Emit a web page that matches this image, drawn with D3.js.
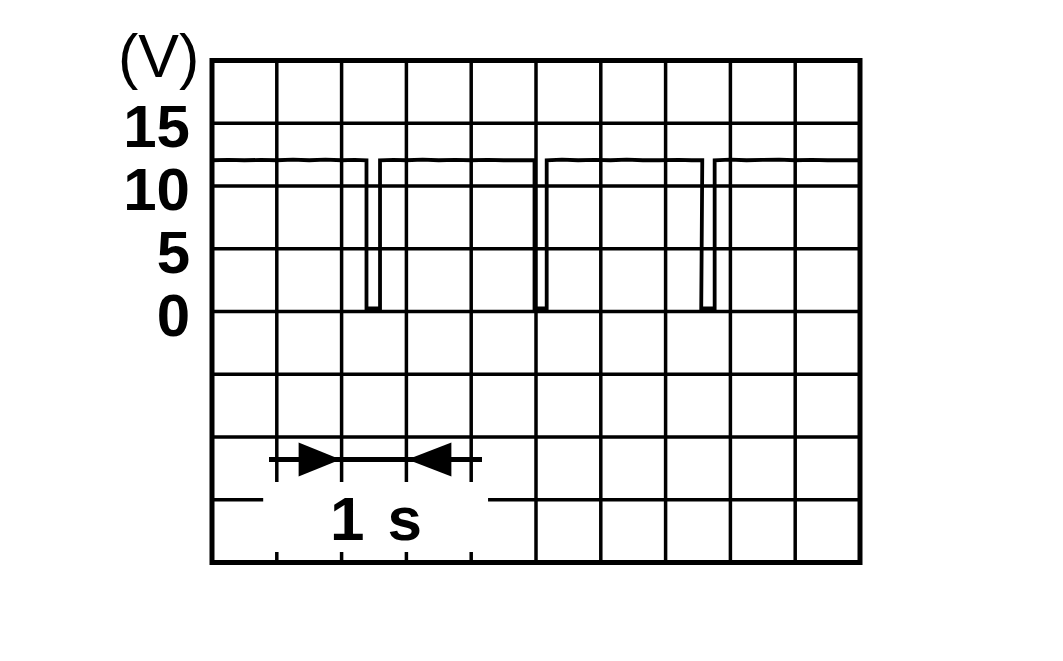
<!DOCTYPE html>
<html>
<head>
<meta charset="utf-8">
<script src="https://cdn.jsdelivr.net/npm/d3@7/dist/d3.min.js"></script>
<style>
  html, body { margin: 0; padding: 0; background: #fff; }
  svg { display: block; }
  text { font-family: "Liberation Sans", Arial, sans-serif; fill: #000; }
</style>
</head>
<body>
<svg id="chart" width="1063" height="661"></svg>
<script>
// ---- data ----
const yTickValues = [15, 10, 5, 0];
const yTickLabels = ["15", "10", "5", "0"];
const yUnitLabel = "(V)";
const xGridValues = [0, 1, 2, 3, 4, 5, 6, 7, 8, 9, 10];     // seconds, 1 s / div
const yGridValues = [20, 15, 10, 5, 0, -5, -10, -15, -20];  // volts, 5 V / div
const signalTime = [
  0, 0.25, 0.5, 0.75, 1.0, 1.25, 1.5, 1.75, 2.0, 2.2, 2.384, 2.384, 2.593, 2.593,
  2.8, 3.0, 3.25, 3.5, 3.75, 4.0, 4.25, 4.5, 4.75, 4.977, 4.977, 5.165, 5.165,
  5.4, 5.65, 5.9, 6.15, 6.4, 6.65, 6.9, 7.2, 7.4, 7.566, 7.55, 7.757, 7.757,
  8.0, 8.25, 8.5, 8.75, 9.0, 9.25, 9.5, 9.75, 10.0
];
const signalVolt = [
  12.05, 12.08, 12.05, 12.08, 12.05, 12.1, 12.05, 12.1, 12.05, 12.08, 12.05, 0.25, 0.25, 12.05,
  12.08, 12.05, 12.1, 12.05, 12.08, 12.05, 12.08, 12.05, 12.05, 12.05, 0.25, 0.25, 12.05,
  12.1, 12.05, 12.08, 12.05, 12.1, 12.05, 12.05, 12.08, 12.05, 12.05, 0.25, 0.25, 12.05,
  12.1, 12.05, 12.08, 12.1, 12.05, 12.08, 12.05, 12.05, 12.05
];
const timeScaleLabel = "1 s";
const timeScaleFrom = 2;   // arrow tips (s)
const timeScaleTo = 3;

// ---- layout ----
const svg = d3.select("#chart");
const pL = 212, pR = 860, pT = 60.5, pB = 562.5;
const x = d3.scaleLinear().domain([0, 10]).range([pL, pR]);
const y = d3.scaleLinear().domain([-20, 20]).range([pB, pT]);

// grid
const grid = svg.append("g");
grid.selectAll("line.v").data(xGridValues.slice(1, -1)).join("line")
  .attr("class", "v")
  .attr("x1", d => x(d)).attr("x2", d => x(d))
  .attr("y1", pT).attr("y2", pB)
  .attr("stroke", "#000").attr("stroke-width", 3.5);
grid.selectAll("line.h").data(yGridValues.slice(1, -1)).join("line")
  .attr("class", "h")
  .attr("x1", pL).attr("x2", pR)
  .attr("y1", d => y(d)).attr("y2", d => y(d))
  .attr("stroke", "#000").attr("stroke-width", 3.5);

// white box behind the time scale label
const boxX0 = x(0.79), boxX1 = x(4.26);
svg.append("rect")
  .attr("x", boxX0).attr("y", 482)
  .attr("width", boxX1 - boxX0).attr("height", 70)
  .attr("fill", "#fff");

// outer border
svg.append("rect")
  .attr("x", pL).attr("y", pT)
  .attr("width", pR - pL).attr("height", pB - pT)
  .attr("fill", "none").attr("stroke", "#000").attr("stroke-width", 5);

// signal
const pts = signalTime.map((t, i) => [t, signalVolt[i]]);
svg.append("path")
  .attr("d", d3.line().x(d => x(d[0])).y(d => y(d[1]))(pts))
  .attr("fill", "none").attr("stroke", "#000")
  .attr("stroke-width", 3.8).attr("stroke-linejoin", "miter");

// y tick labels
svg.append("g").selectAll("text").data(yTickValues).join("text")
  .attr("x", 190).attr("y", d => y(d) + 24)
  .attr("text-anchor", "end")
  .attr("font-size", 60).attr("font-weight", "bold")
  .text((d, i) => yTickLabels[i]);

// unit label
svg.append("text")
  .attr("x", 118).attr("y", 77)
  .attr("font-size", 61)
  .text(yUnitLabel);

// time scale annotation
const ay = 459.5;
const ann = svg.append("g");
ann.append("line")
  .attr("x1", 269).attr("x2", 482)
  .attr("y1", ay).attr("y2", ay)
  .attr("stroke", "#000").attr("stroke-width", 5);
const tipA = x(timeScaleFrom) - 1, tipB = x(timeScaleTo) + 1;
ann.append("path")
  .attr("d", `M${tipA},${ay} L${tipA - 42},${ay - 17} L${tipA - 42},${ay + 17} Z`)
  .attr("fill", "#000");
ann.append("path")
  .attr("d", `M${tipB},${ay} L${tipB + 44},${ay - 17} L${tipB + 44},${ay + 17} Z`)
  .attr("fill", "#000");
ann.append("text")
  .attr("x", (x(timeScaleFrom) + x(timeScaleTo)) / 2 + 2)
  .attr("y", 540)
  .attr("text-anchor", "middle")
  .attr("font-size", 62).attr("font-weight", "bold")
  .attr("word-spacing", 6)
  .text(timeScaleLabel);
</script>
</body>
</html>
